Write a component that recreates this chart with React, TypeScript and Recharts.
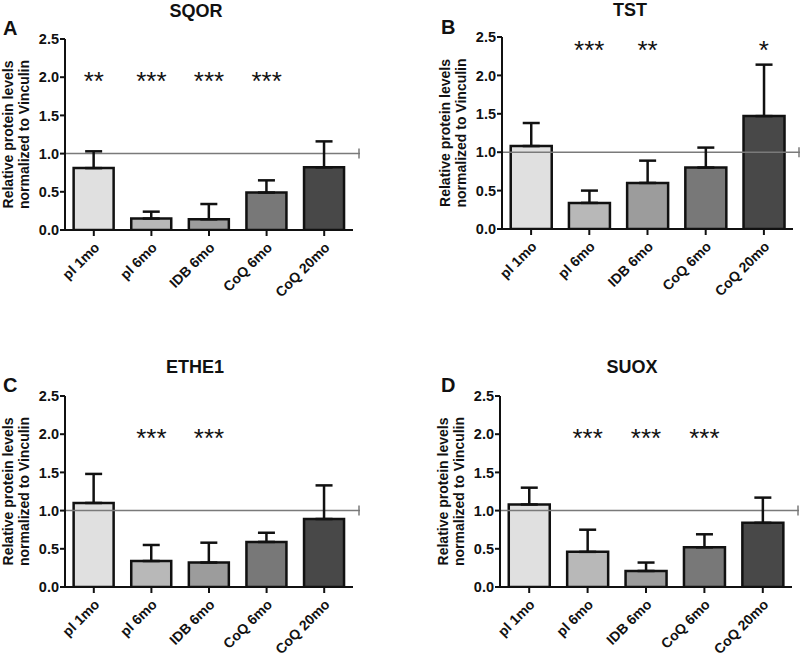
import React from 'react'
import {
  ComposedChart,
  Bar,
  Cell,
  ErrorBar,
  Scatter,
  XAxis,
  YAxis,
  ReferenceLine,
  Label,
} from 'recharts'

const categories = ['pl 1mo', 'pl 6mo', 'IDB 6mo', 'CoQ 6mo', 'CoQ 20mo']
const yTicks = [0, 0.5, 1, 1.5, 2, 2.5]

// means and upper error (distance above the mean)
const sqorMean = [0.81, 0.15, 0.14, 0.49, 0.82]
const sqorErr = [0.22, 0.09, 0.2, 0.16, 0.34]
const sqorStars = ['**', '***', '***', '***', '']
const sqorStarY = 2.0

const tstMean = [1.08, 0.34, 0.6, 0.8, 1.47]
const tstErr = [0.3, 0.16, 0.29, 0.26, 0.67]
const tstStars = ['', '***', '**', '', '*']
const tstStarY = 2.38

const ethe1Mean = [1.1, 0.34, 0.32, 0.59, 0.89]
const ethe1Err = [0.38, 0.21, 0.26, 0.12, 0.44]
const ethe1Stars = ['', '***', '***', '', '']
const ethe1StarY = 2.0

const suoxMean = [1.08, 0.46, 0.21, 0.52, 0.84]
const suoxErr = [0.22, 0.29, 0.11, 0.17, 0.33]
const suoxStars = ['', '***', '***', '***', '']
const suoxStarY = 2.0

const BAR_COLORS = ['#e0e0e0', '#b8b8b8', '#9c9c9c', '#787878', '#484848']
const FONT = '"Liberation Sans", Arial, Helvetica, sans-serif'
const INK = '#111111'

const CHART_W = 400
const CHART_H = 329

interface PanelConfig {
  letter: string
  title: string
  mean: number[]
  err: number[]
  stars: string[]
  starY: number
  left: number
  top: number
  plotLeft: number
  plotRight: number
  plotTop: number
  plotBottom: number
  titleX: number
  titleY: number
  letterX: number
  letterY: number
}

const panels: PanelConfig[] = [
  {
    letter: 'A', title: 'SQOR', mean: sqorMean, err: sqorErr, stars: sqorStars, starY: sqorStarY,
    left: 0, top: 0, plotLeft: 65, plotRight: 353, plotTop: 39, plotBottom: 230,
    titleX: 196, titleY: 17, letterX: 3, letterY: 35,
  },
  {
    letter: 'B', title: 'TST', mean: tstMean, err: tstErr, stars: tstStars, starY: tstStarY,
    left: 400, top: 0, plotLeft: 102, plotRight: 393, plotTop: 37, plotBottom: 229,
    titleX: 230, titleY: 16, letterX: 41, letterY: 34,
  },
  {
    letter: 'C', title: 'ETHE1', mean: ethe1Mean, err: ethe1Err, stars: ethe1Stars, starY: ethe1StarY,
    left: 0, top: 329, plotLeft: 65, plotRight: 353, plotTop: 67, plotBottom: 258,
    titleX: 195, titleY: 44, letterX: 3, letterY: 63,
  },
  {
    letter: 'D', title: 'SUOX', mean: suoxMean, err: suoxErr, stars: suoxStars, starY: suoxStarY,
    left: 400, top: 329, plotLeft: 100, plotRight: 392, plotTop: 67, plotBottom: 258,
    titleX: 232, titleY: 44, letterX: 41, letterY: 63,
  },
]

const XTick = (props: any) => {
  const { x, y, payload } = props
  return (
    <g transform={`translate(${x + 3},${y + 7})`}>
      <text
        transform="rotate(-45)"
        textAnchor="end"
        dy="0.35em"
        fontSize={14}
        fontWeight="bold"
        fontFamily={FONT}
        fill={INK}
      >
        {payload.value}
      </text>
    </g>
  )
}

// horizontal line at 1.0 that runs a little past the plot and ends in a short tick
const RefShape = (props: any) => {
  const { x1, x2, y1 } = props
  const end = x2 + 7
  return (
    <g>
      <line x1={x1} y1={y1} x2={end} y2={y1} stroke="#7a7a7a" strokeWidth={1.5} />
      <line x1={end - 1} y1={y1 - 5} x2={end - 1} y2={y1 + 5} stroke="#7a7a7a" strokeWidth={1.5} />
    </g>
  )
}

const StarShape = (props: any) => {
  const { cx, cy, payload } = props
  if (!payload || !payload.stars) return <g />
  return (
    <text
      x={cx}
      y={cy + 13}
      textAnchor="middle"
      fontSize={26}
      fontFamily={FONT}
      fill={INK}
    >
      {payload.stars}
    </text>
  )
}

const Panel: React.FC<{ cfg: PanelConfig }> = ({ cfg }) => {
  const data = categories.map((name, i) => ({
    name,
    mean: cfg.mean[i],
    err: [0, cfg.err[i]],
    stars: cfg.stars[i],
    starY: cfg.starY,
  }))
  const midY = (cfg.plotTop + cfg.plotBottom) / 2

  const renderDecor = () => (
    <g fontFamily={FONT} fontWeight="bold" fill={INK}>
      <text x={cfg.titleX} y={cfg.titleY} textAnchor="middle" fontSize={18}>
        {cfg.title}
      </text>
      <text x={cfg.letterX} y={cfg.letterY} fontSize={20}>
        {cfg.letter}
      </text>
      <text
        transform={`translate(${cfg.plotLeft - 52},${midY}) rotate(-90)`}
        textAnchor="middle"
        fontSize={14}
      >
        Relative protein levels
      </text>
      <text
        transform={`translate(${cfg.plotLeft - 36},${midY}) rotate(-90)`}
        textAnchor="middle"
        fontSize={14}
      >
        normalized to Vinculin
      </text>
    </g>
  )

  return (
    <div style={{ position: 'absolute', left: cfg.left, top: cfg.top, width: CHART_W, height: CHART_H }}>
      <ComposedChart
        width={CHART_W}
        height={CHART_H}
        data={data}
        margin={{ top: cfg.plotTop, right: CHART_W - cfg.plotRight, left: 0, bottom: 0 }}
        barCategoryGap="15%"
      >
        <XAxis
          dataKey="name"
          height={CHART_H - cfg.plotBottom}
          axisLine={{ stroke: INK, strokeWidth: 2 }}
          tickLine={{ stroke: INK, strokeWidth: 2 }}
          tickSize={6}
          tick={<XTick />}
          interval={0}
        />
        <YAxis
          width={cfg.plotLeft}
          domain={[0, 2.5]}
          ticks={yTicks}
          allowDataOverflow
          axisLine={{ stroke: INK, strokeWidth: 2 }}
          tickLine={{ stroke: INK, strokeWidth: 2 }}
          tickSize={5}
          tickMargin={1}
          tickFormatter={(v: number) => v.toFixed(1)}
          tick={{ fontSize: 14.5, fontWeight: 'bold', fontFamily: FONT, fill: INK }}
        >
          <Label content={renderDecor} />
        </YAxis>
        <ReferenceLine y={1} ifOverflow="visible" shape={<RefShape />} />
        <Bar dataKey="mean" stroke={INK} strokeWidth={2.5} isAnimationActive={false}>
          {data.map((entry, index) => (
            <Cell key={`cell-${index}`} fill={BAR_COLORS[index]} />
          ))}
          <ErrorBar dataKey="err" direction="y" width={8.5} stroke={INK} strokeWidth={2.5} />
        </Bar>
        <Scatter dataKey="starY" shape={<StarShape />} isAnimationActive={false} />
      </ComposedChart>
    </div>
  )
}

export default function App() {
  return (
    <div style={{ position: 'absolute', left: 0, top: 0, width: 800, height: 658, background: '#fff' }}>
      {panels.map((cfg) => (
        <Panel key={cfg.letter} cfg={cfg} />
      ))}
    </div>
  )
}
